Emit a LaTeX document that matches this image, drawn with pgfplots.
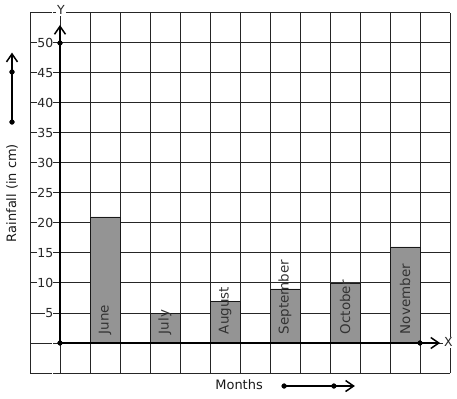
\documentclass[border=0pt]{standalone}
\usepackage{pgfplots}
\pgfplotsset{compat=1.18}
\usepackage{fontspec}
\setmainfont{DejaVu Sans}
\usetikzlibrary{arrows.meta}
\begin{document}
\begin{tikzpicture}
\begin{axis}[
  x=30bp, y=6bp,
  xmin=-1, xmax=13, ymin=-5, ymax=55,
  clip=false,
  axis line style={draw=none},
  tick style={draw=none},
  xtick={-1,0,...,13},
  ytick={-5,0,...,55},
  xticklabels={},
  yticklabels={{},{},5,10,15,20,25,30,35,40,45,50,{}},
  yticklabel style={anchor=east, inner sep=0pt, xshift=23.5bp, fill=white, font=\fontsize{12.5}{14}\selectfont, text=black!85},
  grid=major,
  major grid style={line width=1bp, draw=black!85},
  /pgf/number format/assume math mode=true,
]
\addplot[ybar, bar width=30bp, fill=black!42, draw=black!90, line width=0.8bp]
  coordinates {(1.5,21) (3.5,5) (5.5,7) (7.5,9) (9.5,10) (11.5,16)};
% axes
\addplot[line width=2bp, mark=none, -{Straight Barb[length=8bp,width=11bp,line width=1.5bp]}]
  coordinates {(0,0) (12.67,0)};
\addplot[line width=2bp, mark=none, -{Straight Barb[length=8bp,width=11bp,line width=1.5bp]}]
  coordinates {(0,0) (0,53)};
\addplot[only marks, mark=*, mark size=2.4bp, black] coordinates {(0,0) (0,50) (12,0)};
% decorative arrows
\addplot[line width=2bp, mark=none, -{Straight Barb[length=8bp,width=11bp,line width=1.5bp]}]
  coordinates {(-1.6,36.83) (-1.6,48.4)};
\addplot[line width=2bp, mark=none, -{Straight Barb[length=8bp,width=11bp,line width=1.5bp]}]
  coordinates {(7.47,-7.17) (9.83,-7.17)};
\addplot[only marks, mark=*, mark size=2.4bp, black] coordinates {(-1.6,36.83) (-1.6,45.17) (7.47,-7.17) (9.13,-7.17)};
% bar labels
\foreach \xx/\lab in {1.5/June,3.5/July,5.5/August,7.5/September,9.5/October,11.5/November}{
  \edef\tmp{\noexpand\node[rotate=90, anchor=west, font=\noexpand\fontsize{13.5}{15}\noexpand\selectfont, text=black!80] at (axis cs:\xx,0.9) {\lab};}
  \tmp
}
\node[fill=white, inner sep=1bp, font=\fontsize{12.5}{14}\selectfont, text=black!85] at (axis cs:0.03,55.5) {Y};
\node[fill=white, inner sep=1bp, font=\fontsize{12.5}{14}\selectfont, text=black!85] at (axis cs:12.95,0.1) {X};
\node[font=\fontsize{13}{15}\selectfont, text=black!90] at (axis cs:5.97,-7.0) {Months};
\node[rotate=90, font=\fontsize{13}{15}\selectfont, text=black!90] at (axis cs:-1.6,25) {Rainfall (in cm)};
\path (axis cs:-2,-9.3333) rectangle (axis cs:13.2333,57.1667);
\end{axis}
\end{tikzpicture}
\end{document}
